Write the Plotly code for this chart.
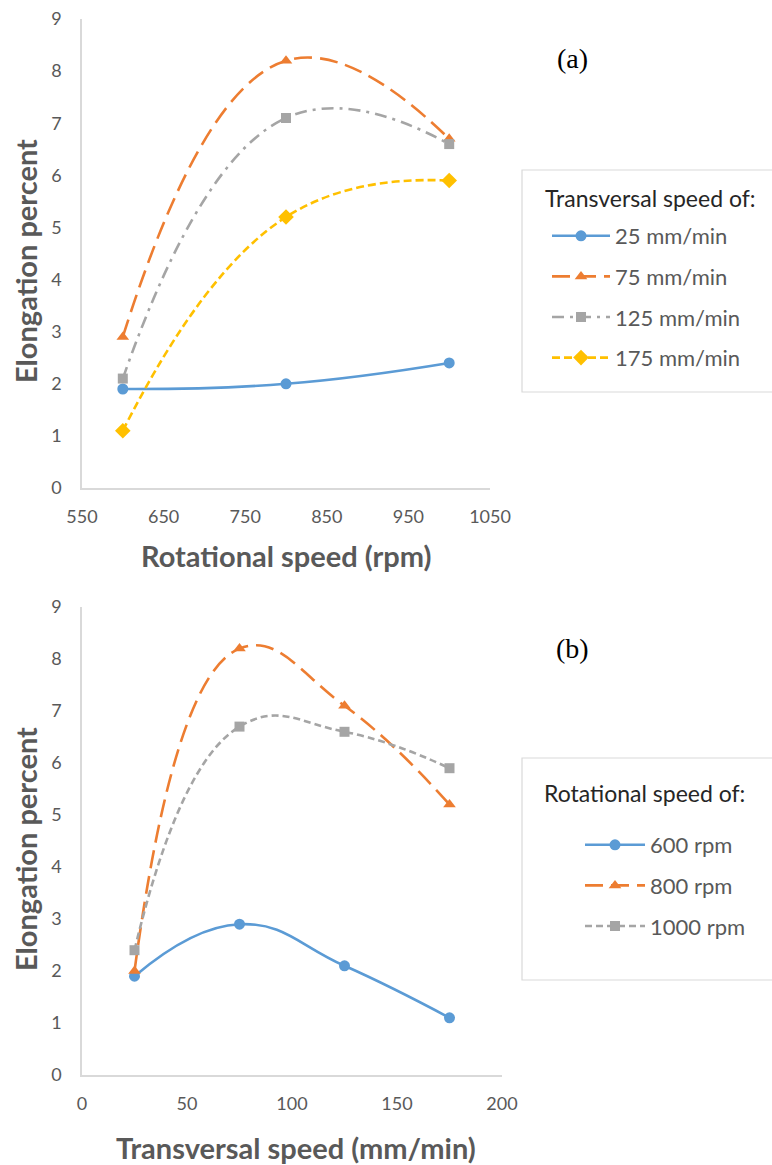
import plotly.graph_objects as go

# ---- data ----
rot_speed = [600, 800, 1000]          # rpm (x of panel a)
trans_speed = [25, 75, 125, 175]      # mm/min (x of panel b)

ts25 = [1.9, 2.0, 2.4]
ts75 = [2.9, 8.2, 6.7]
ts125 = [2.1, 7.1, 6.6]
ts175 = [1.1, 5.2, 5.9]

rpm600 = [1.9, 2.9, 2.1, 1.1]
rpm800 = [2.0, 8.2, 7.1, 5.2]
rpm1000 = [2.4, 6.7, 6.6, 5.9]

names_a = ["25 mm/min", "75 mm/min", "125 mm/min", "175 mm/min"]
names_b = ["600 rpm", "800 rpm", "1000 rpm"]

W, H = 772, 1165
BLUE, ORANGE, GRAY, YELLOW = "#5B9BD5", "#ED7D31", "#A5A5A5", "#FFC000"
FONT = "Lato"
TXT = "#595959"
SMOOTH = 1.3

def px(x):
    return x / W

def py(y):
    return 1 - y / H

fig = go.Figure()

styles_a = [
    (ts25, BLUE, "solid", "circle", 11),
    (ts75, ORANGE, "18px,8px", "triangle-up", 11),
    (ts125, GRAY, "12px,6px,3px,6px", "square", 10),
    (ts175, YELLOW, "8px,4px", "diamond", 12),
]
for i, (vals, col, dash, sym, ms) in enumerate(styles_a):
    fig.add_trace(go.Scatter(
        x=rot_speed, y=vals, name=names_a[i], mode="lines+markers",
        line=dict(color=col, width=2.6, dash=dash, shape="spline", smoothing=SMOOTH),
        marker=dict(color=col, symbol=sym, size=ms),
        xaxis="x", yaxis="y", legend="legend", legendgroup="a%d" % i,
    ))

styles_b = [
    (rpm600, BLUE, "solid", "circle", 11),
    (rpm800, ORANGE, "18px,8px", "triangle-up", 11),
    (rpm1000, GRAY, "7px,4px", "square", 10),
]
for i, (vals, col, dash, sym, ms) in enumerate(styles_b):
    fig.add_trace(go.Scatter(
        x=trans_speed, y=vals, name=names_b[i], mode="lines+markers",
        line=dict(color=col, width=2.6, dash=dash, shape="spline", smoothing=SMOOTH),
        marker=dict(color=col, symbol=sym, size=ms),
        xaxis="x2", yaxis="y2", legend="legend2", legendgroup="b%d" % i,
    ))

axis_common = dict(
    showline=True, linecolor="#D9D9D9", linewidth=1.5, showgrid=False,
    zeroline=False, ticks="", tickfont=dict(family=FONT, size=18, color=TXT),
    automargin=False,
)
xcommon = dict(axis_common, ticklabelstandoff=12)
ycommon = dict(axis_common, ticklabelstandoff=15)

fig.update_layout(
    width=W, height=H,
    margin=dict(l=0, r=0, t=0, b=0, autoexpand=False),
    paper_bgcolor="white", plot_bgcolor="white",
    showlegend=True,
    xaxis=dict(domain=[px(82), px(490)], range=[550, 1050], tick0=550, dtick=100,
               anchor="y", **xcommon),
    yaxis=dict(domain=[py(488), py(19)], range=[0, 9], dtick=1, anchor="x",
               **ycommon),
    xaxis2=dict(domain=[px(82), px(502)], range=[0, 200], dtick=50,
                anchor="y2", **xcommon),
    yaxis2=dict(domain=[py(1075), py(607)], range=[0, 9], dtick=1, anchor="x2",
                **ycommon),
    legend=dict(
        x=px(547), y=py(215), xanchor="left", yanchor="top",
        bgcolor="rgba(0,0,0,0)", borderwidth=0,
        font=dict(family=FONT, size=22, color=TXT),
        tracegroupgap=9, itemwidth=58,
    ),
    legend2=dict(
        x=px(580), y=py(824), xanchor="left", yanchor="top",
        bgcolor="rgba(0,0,0,0)", borderwidth=0,
        font=dict(family=FONT, size=22, color=TXT),
        tracegroupgap=9, itemwidth=60,
    ),
    shapes=[
        dict(type="rect", xref="paper", yref="paper", x0=px(522), x1=1.02,
             y0=py(392), y1=py(170), line=dict(color="#D9D9D9", width=1.2)),
        dict(type="rect", xref="paper", yref="paper", x0=px(522), x1=1.02,
             y0=py(980), y1=py(758), line=dict(color="#D9D9D9", width=1.2)),
    ],
)

def note(text, x, y, size, color=TXT, family=FONT, angle=0, xanchor="center"):
    fig.add_annotation(text=text, x=px(x), y=py(y), xref="paper", yref="paper",
                       xanchor=xanchor, yanchor="middle", showarrow=False,
                       textangle=angle, font=dict(family=family, size=size, color=color))

note("Transversal speed of:", 543, 198, 23, color="#262626", xanchor="left")
note("Rotational speed of:", 542, 793, 23, color="#262626", xanchor="left")
note("(a)", 572, 59, 28, color="#000000", family="Liberation Serif")
note("(b)", 572, 648, 28, color="#000000", family="Liberation Serif")
note("<b>Rotational speed (rpm)</b>", 286, 555, 29)
note("<b>Transversal speed (mm/min)</b>", 296, 1147, 29)
note("<b>Elongation percent</b>", 25, 261, 29, angle=-90)
note("<b>Elongation percent</b>", 25, 849, 29, angle=-90)

fig.write_html("out.html")
